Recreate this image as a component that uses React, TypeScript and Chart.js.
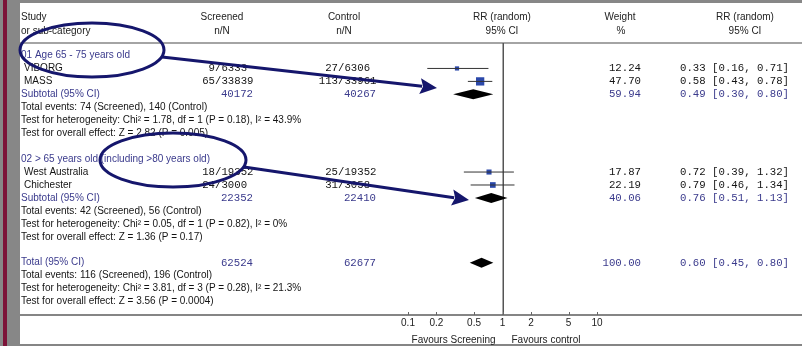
import React, { useEffect, useRef } from "react";
import { Chart, registerables } from "chart.js";

Chart.register(...registerables);

// Individual trials
const studyNames = ["VIBORG", "MASS", "West Australia", "Chichester"];
const studyRows = [1, 2, 9, 10];
const screenedEvents = [9, 65, 18, 24];
const screenedTotals = [6333, 33839, 19352, 3000];
const controlEvents = [27, 113, 25, 31];
const controlTotals = [6306, 33961, 19352, 3058];
const studyWeights = [12.24, 47.7, 17.87, 22.19];
const studyRR = [0.33, 0.58, 0.72, 0.79];
const studyLow = [0.16, 0.43, 0.39, 0.46];
const studyHigh = [0.71, 0.78, 1.32, 1.34];

// Pooled estimates (subgroups and overall)
const pooledLabels = ["Subtotal (95% CI)", "Subtotal (95% CI)", "Total (95% CI)"];
const pooledRows = [3, 11, 16];
const pooledScreened = [40172, 22352, 62524];
const pooledControl = [40267, 22410, 62677];
const pooledWeights = [59.94, 40.06, 100.0];
const pooledRR = [0.49, 0.76, 0.6];
const pooledLow = [0.3, 0.51, 0.45];
const pooledHigh = [0.8, 1.13, 0.8];

// Subgroup headings
const groupHeadings = ["01 Age 65 - 75 years old", "02 > 65 years old (including >80 years old)"];
const groupRows = [0, 8];

// Summary statistics lines
const noteLines = [
  "Total events: 74 (Screened), 140 (Control)",
  "Test for heterogeneity: Chi\u00b2 = 1.78, df = 1 (P = 0.18), I\u00b2 = 43.9%",
  "Test for overall effect: Z = 2.82 (P = 0.005)",
  "Total events: 42 (Screened), 56 (Control)",
  "Test for heterogeneity: Chi\u00b2 = 0.05, df = 1 (P = 0.82), I\u00b2 = 0%",
  "Test for overall effect: Z = 1.36 (P = 0.17)",
  "Total events: 116 (Screened), 196 (Control)",
  "Test for heterogeneity: Chi\u00b2 = 3.81, df = 3 (P = 0.28), I\u00b2 = 21.3%",
  "Test for overall effect: Z = 3.56 (P = 0.0004)",
];
const noteRows = [4, 5, 6, 12, 13, 14, 17, 18, 19];

const xTicks = [0.1, 0.2, 0.5, 1, 2, 5, 10];

const SANS = '"Liberation Sans", Arial, sans-serif';
const MONO = '"Liberation Mono", "Courier New", monospace';
const BLUE = "#3a3a8c";
const INK = "#141414";
const NAVY = "#15166c";

const fmt2 = (v: number) => v.toFixed(2);
const rrText = (r: number, lo: number, hi: number) => `${fmt2(r)} [${fmt2(lo)}, ${fmt2(hi)}]`;

function drawArrow(ctx: CanvasRenderingContext2D, x1: number, y1: number, x2: number, y2: number) {
  const len = Math.hypot(x2 - x1, y2 - y1);
  const ux = (x2 - x1) / len;
  const uy = (y2 - y1) / len;
  const headLen = 17;
  const headHalf = 8;
  const bx = x2 - ux * headLen;
  const by = y2 - uy * headLen;
  ctx.beginPath();
  ctx.moveTo(x1, y1);
  ctx.lineTo(bx + ux * 2, by + uy * 2);
  ctx.stroke();
  ctx.beginPath();
  ctx.moveTo(x2, y2);
  ctx.lineTo(bx - uy * headHalf, by + ux * headHalf);
  ctx.lineTo(bx + ux * 3, by + uy * 3);
  ctx.lineTo(bx + uy * headHalf, by - ux * headHalf);
  ctx.closePath();
  ctx.fill();
}

const forestPlugin = {
  id: "forestTable",
  beforeDraw(chart: any) {
    const { ctx, width, height } = chart;
    ctx.save();
    ctx.fillStyle = "#878787";
    ctx.fillRect(0, 0, width, height);
    ctx.fillStyle = "#7c1338";
    ctx.fillRect(3, 0, 4, height);
    ctx.fillStyle = "#ffffff";
    ctx.fillRect(20, 3, width - 20, 341);
    ctx.fillStyle = "#a4a4a4";
    ctx.fillRect(20, 42, width - 20, 2);
    ctx.fillStyle = "#858585";
    ctx.fillRect(20, 314, width - 20, 2);
    ctx.fillRect(20, 344, width - 20, 2);
    ctx.restore();
  },
  beforeDatasetsDraw(chart: any) {
    const { ctx, chartArea } = chart;
    const xs = chart.scales.x;
    ctx.save();
    ctx.strokeStyle = "#555555";
    ctx.lineWidth = 1.5;
    const x1 = Math.round(xs.getPixelForValue(1)) + 0.25;
    ctx.beginPath();
    ctx.moveTo(x1, chartArea.top);
    ctx.lineTo(x1, chartArea.bottom);
    ctx.stroke();
    ctx.lineWidth = 1;
    ctx.strokeStyle = "#666666";
    xTicks.forEach((t) => {
      const px = Math.round(xs.getPixelForValue(t)) + 0.5;
      ctx.beginPath();
      ctx.moveTo(px, chartArea.bottom - 3);
      ctx.lineTo(px, chartArea.bottom);
      ctx.stroke();
    });
    ctx.restore();
  },
  afterDatasetsDraw(chart: any) {
    const { ctx } = chart;
    const xs = chart.scales.x;
    const ys = chart.scales.y;
    ctx.save();
    ctx.fillStyle = "#000000";
    pooledRR.forEach((rr, i) => {
      const y = ys.getPixelForValue(pooledRows[i]);
      const xl = xs.getPixelForValue(pooledLow[i]);
      const xm = xs.getPixelForValue(rr);
      const xh = xs.getPixelForValue(pooledHigh[i]);
      ctx.beginPath();
      ctx.moveTo(xl, y);
      ctx.lineTo(xm, y - 5);
      ctx.lineTo(xh, y);
      ctx.lineTo(xm, y + 5);
      ctx.closePath();
      ctx.fill();
    });
    ctx.restore();
  },
  afterDraw(chart: any) {
    const { ctx } = chart;
    const xs = chart.scales.x;
    const ys = chart.scales.y;
    const rowY = (r: number) => ys.getPixelForValue(r);
    ctx.save();
    ctx.textBaseline = "middle";

    // Column headers
    ctx.font = `10px ${SANS}`;
    ctx.fillStyle = "#222222";
    ctx.textAlign = "left";
    ctx.fillText("Study", 21, 17);
    ctx.fillText("or sub-category", 21, 31);
    ctx.textAlign = "center";
    ctx.fillText("Screened", 222, 17);
    ctx.fillText("n/N", 222, 31);
    ctx.fillText("Control", 344, 17);
    ctx.fillText("n/N", 344, 31);
    ctx.fillText("RR (random)", 502, 17);
    ctx.fillText("95% CI", 502, 31);
    ctx.fillText("Weight", 620, 17);
    ctx.fillText("%", 621, 31);
    ctx.fillText("RR (random)", 745, 17);
    ctx.fillText("95% CI", 745, 31);

    // Subgroup headings
    ctx.textAlign = "left";
    ctx.fillStyle = BLUE;
    groupHeadings.forEach((h, i) => ctx.fillText(h, 21, rowY(groupRows[i])));

    // Study rows
    studyNames.forEach((name, i) => {
      const y = rowY(studyRows[i]);
      ctx.font = `10px ${SANS}`;
      ctx.fillStyle = INK;
      ctx.textAlign = "left";
      ctx.fillText(name, 24, y);
      ctx.font = `10.7px ${MONO}`;
      ctx.textAlign = "right";
      ctx.fillText(`${screenedEvents[i]}`, 215, y);
      ctx.fillText(`${controlEvents[i]}`, 338, y);
      ctx.textAlign = "left";
      ctx.fillText(`/${screenedTotals[i]}`, 215, y);
      ctx.fillText(`/${controlTotals[i]}`, 338, y);
      ctx.textAlign = "right";
      ctx.fillText(fmt2(studyWeights[i]), 641, y);
      ctx.textAlign = "left";
      ctx.fillText(rrText(studyRR[i], studyLow[i], studyHigh[i]), 680, y);
    });

    // Pooled rows
    pooledLabels.forEach((label, i) => {
      const y = rowY(pooledRows[i]);
      ctx.fillStyle = BLUE;
      ctx.font = `10px ${SANS}`;
      ctx.textAlign = "left";
      ctx.fillText(label, 21, y);
      ctx.font = `10.7px ${MONO}`;
      ctx.textAlign = "right";
      ctx.fillText(`${pooledScreened[i]}`, 253, y);
      ctx.fillText(`${pooledControl[i]}`, 376, y);
      ctx.fillText(fmt2(pooledWeights[i]), 641, y);
      ctx.textAlign = "left";
      ctx.fillText(rrText(pooledRR[i], pooledLow[i], pooledHigh[i]), 680, y);
    });

    // Summary statistics
    ctx.font = `10px ${SANS}`;
    ctx.fillStyle = INK;
    ctx.textAlign = "left";
    noteLines.forEach((t, i) => ctx.fillText(t, 21, rowY(noteRows[i])));

    // Axis captions
    const one = xs.getPixelForValue(1);
    ctx.fillStyle = "#222222";
    ctx.textAlign = "right";
    ctx.fillText("Favours Screening", one - 7, 340);
    ctx.textAlign = "left";
    ctx.fillText("Favours control", one + 9, 340);

    // Highlight ellipses and arrows
    ctx.strokeStyle = NAVY;
    ctx.fillStyle = NAVY;
    ctx.lineWidth = 3;
    ctx.beginPath();
    ctx.ellipse(92, 50, 72, 27, 0, 0, Math.PI * 2);
    ctx.stroke();
    ctx.beginPath();
    ctx.ellipse(173, 160, 73, 27, 0, 0, Math.PI * 2);
    ctx.stroke();
    ctx.lineWidth = 3;
    drawArrow(ctx, 162, 57, 437, 88);
    drawArrow(ctx, 244, 167, 469, 200);
    ctx.restore();
  },
};

export default function App() {
  const canvasRef = useRef<HTMLCanvasElement | null>(null);

  useEffect(() => {
    if (!canvasRef.current) return;
    const ciDatasets = studyRR.map((_, i) => ({
      label: studyNames[i],
      data: [
        { x: studyLow[i], y: studyRows[i] },
        { x: studyHigh[i], y: studyRows[i] },
      ],
      showLine: true,
      borderColor: "#333333",
      borderWidth: 1,
      pointRadius: 0,
      fill: false,
    }));
    const chart = new Chart(canvasRef.current, {
      type: "scatter",
      data: {
        datasets: [
          ...ciDatasets,
          {
            label: "RR",
            data: studyRR.map((r, i) => ({ x: r, y: studyRows[i] })),
            pointStyle: "rect",
            pointRadius: studyWeights.map((w) => (1.2 * Math.sqrt(w)) / Math.SQRT2),
            backgroundColor: "#2b48aa",
            borderWidth: 0,
          },
        ],
      },
      options: {
        animation: false,
        responsive: false,
        devicePixelRatio: 1,
        layout: { padding: { left: 408, right: 205, top: 43, bottom: 0 } },
        plugins: { legend: { display: false }, tooltip: { enabled: false } },
        scales: {
          x: {
            type: "logarithmic",
            min: 0.1,
            max: 10,
            afterBuildTicks: (scale: any) => {
              scale.ticks = xTicks.map((v) => ({ value: v }));
            },
            afterFit: (scale: any) => {
              scale.height = 31;
            },
            grid: { display: false, drawTicks: false },
            border: { display: false },
            ticks: {
              padding: 2,
              autoSkip: false,
              maxRotation: 0,
              color: "#222222",
              font: { family: "Liberation Sans", size: 10 },
              callback: (v: any) => String(v),
            },
          },
          y: {
            type: "linear",
            display: false,
            reverse: true,
            min: -0.965,
            max: 20.04,
          },
        },
      },
      plugins: [forestPlugin],
    } as any);
    return () => chart.destroy();
  }, []);

  return (
    <div style={{ position: "absolute", left: 0, top: 0, width: 802, height: 346 }}>
      <canvas ref={canvasRef} width={802} height={346} style={{ display: "block" }} />
    </div>
  );
}
